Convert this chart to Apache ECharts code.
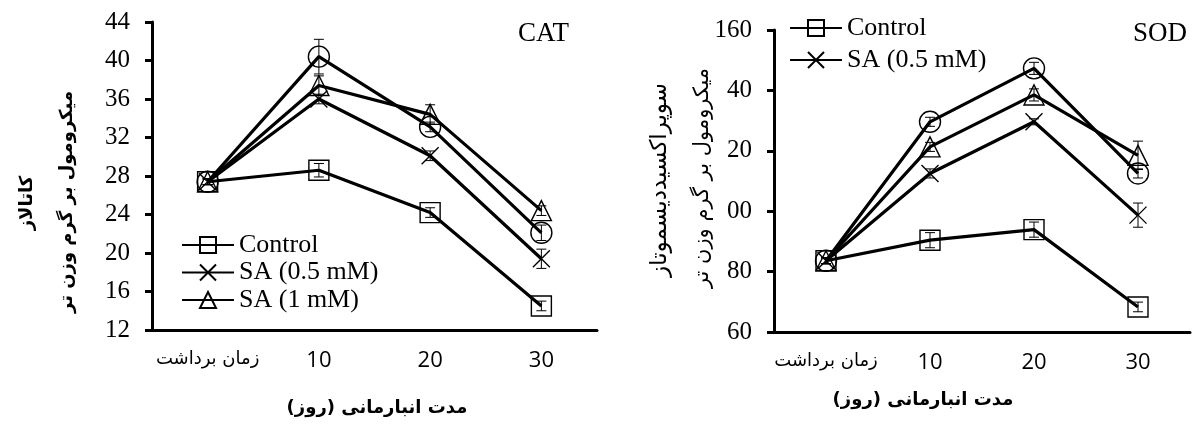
<!DOCTYPE html>
<html><head><meta charset="utf-8">
<script src="https://cdn.jsdelivr.net/npm/echarts@6/dist/echarts.min.js"></script>
<style>html,body{margin:0;padding:0;background:#fff}#c{width:1195px;height:430px}</style>
</head><body><div id="c"></div>
<script>
// ---- data ----
const categories = ['زمان برداشت', '10', '20', '30'];
const seriesNames = ['Control', 'SA (0.5 mM)', 'SA (1 mM)', 'SA (2 mM)'];

const catControl = [27.4, 28.6, 24.2, 14.5];
const catSA05    = [27.4, 36.0, 30.1, 19.4];
const catSA1     = [27.4, 37.4, 34.4, 24.4];
const catSA2     = [27.4, 40.4, 33.1, 22.1];
const catErrControl = [0.3, 0.7, 0.5, 0.5];
const catErrSA05    = [0.3, 0.5, 0.5, 1.0];
const catErrSA1     = [0.3, 1.0, 1.0, 0.5];
const catErrSA2     = [0.3, 1.8, 0.5, 0.8];

const sodControl = [83.6, 90.4, 93.9, 68.3];
const sodSA05    = [83.6, 112.5, 129.6, 98.7];
const sodSA1     = [83.6, 121.3, 138.5, 118.5];
const sodSA2     = [83.6, 129.6, 147.3, 112.5];
const sodErrControl = [1.0, 2.5, 2.5, 1.6];
const sodErrSA05    = [1.0, 1.5, 1.0, 4.0];
const sodErrSA1     = [1.0, 1.5, 2.0, 4.7];
const sodErrSA2     = [1.0, 1.5, 2.0, 1.5];

const catTicks = [12, 16, 20, 24, 28, 32, 36, 40, 44];
const sodTickLabels = {60: '60', 80: '80', 100: '00', 120: '20', 140: '40', 160: '160'};

// ---- build ----
const serif = 'Liberation Serif';
const symbols = [
  'rect',
  'path://M0,0L10,10M10,0L0,10',
  'triangle',
  'circle'
];
const symSizes = [20, 17, 20, 21];

function lineSeries(name, idx, data, axis) {
  return {
    type: 'line', name: name, data: data,
    xAxisIndex: axis, yAxisIndex: axis,
    symbol: symbols[idx], symbolSize: symSizes[idx],
    showAllSymbol: true,
    lineStyle: {color: '#000', width: 3.2},
    itemStyle: {color: 'rgba(0,0,0,0)', borderColor: '#000', borderWidth: 1.4},
    z: 3, animation: false
  };
}
function errSeries(vals, errs, axis) {
  return {
    type: 'custom', xAxisIndex: axis, yAxisIndex: axis, silent: true, z: 2,
    animation: false,
    data: vals.map((v, i) => [i, v - errs[i], v + errs[i]]),
    renderItem: function (params, api) {
      const x = api.value(0);
      const top = api.coord([x, api.value(2)]);
      const bot = api.coord([x, api.value(1)]);
      const w = 5;
      const st = {stroke: '#000', lineWidth: 1};
      return {type: 'group', children: [
        {type: 'line', shape: {x1: top[0], y1: top[1], x2: bot[0], y2: bot[1]}, style: st},
        {type: 'line', shape: {x1: top[0] - w, y1: top[1], x2: top[0] + w, y2: top[1]}, style: st},
        {type: 'line', shape: {x1: bot[0] - w, y1: bot[1], x2: bot[0] + w, y2: bot[1]}, style: st}
      ]};
    }
  };
}

function xAxisDef(gi) {
  return {
    type: 'category', gridIndex: gi, data: categories, boundaryGap: true,
    axisLine: {lineStyle: {color: '#000', width: 3}},
    axisTick: {alignWithLabel: true, length: 5, lineStyle: {color: '#000', width: 3}},
    axisLabel: {
      interval: 0, margin: 20, color: '#000',
      fontFamily: 'Open Sans, DejaVu Sans', fontSize: 22,
      formatter: function (v, i) { return i === 0 ? '{a|' + v + '}' : v; },
      rich: {a: {fontFamily: 'DejaVu Sans', fontSize: 18, color: '#000'}}
    },
    splitLine: {show: false}
  };
}

const chart = echarts.init(document.getElementById('c'), null, {renderer: 'canvas'});
chart.setOption({
  animation: false,
  backgroundColor: '#fff',
  grid: [
    {left: 152, top: 22, width: 445, height: 308},
    {left: 774, top: 30, width: 416, height: 302}
  ],
  xAxis: [xAxisDef(0), xAxisDef(1)],
  yAxis: [
    {
      type: 'value', gridIndex: 0, min: catTicks[0], max: catTicks[catTicks.length - 1], interval: 4,
      axisLine: {show: true, lineStyle: {color: '#000', width: 3}},
      axisTick: {show: true, length: 7, lineStyle: {color: '#000', width: 3}},
      axisLabel: {margin: 22, color: '#000', fontFamily: serif, fontSize: 25},
      splitLine: {show: false}
    },
    {
      type: 'value', gridIndex: 1, min: 60, max: 160, interval: 20,
      axisLine: {show: true, lineStyle: {color: '#000', width: 3}},
      axisTick: {show: true, length: 7, lineStyle: {color: '#000', width: 3}},
      axisLabel: {margin: 22, color: '#000', fontFamily: serif, fontSize: 25,
        formatter: function (v) { return sodTickLabels[v] !== undefined ? sodTickLabels[v] : ''; }},
      splitLine: {show: false}
    }
  ],
  legend: [
    {
      data: seriesNames.slice(0, 3), orient: 'vertical', left: 181, top: 232,
      itemWidth: 52, itemHeight: 20, itemGap: 1.5, padding: 0,
      textStyle: {fontFamily: serif, fontSize: 26, color: '#000', lineHeight: 26},
      selectedMode: false
    },
    {
      data: seriesNames.slice(0, 2), orient: 'vertical', left: 789, top: 15,
      itemWidth: 52, itemHeight: 20, itemGap: 6, padding: 0,
      textStyle: {fontFamily: serif, fontSize: 26, color: '#000', lineHeight: 26},
      selectedMode: false
    }
  ],
  series: [
    errSeries(catControl, catErrControl, 0),
    errSeries(catSA05, catErrSA05, 0),
    errSeries(catSA1, catErrSA1, 0),
    errSeries(catSA2, catErrSA2, 0),
    lineSeries(seriesNames[0], 0, catControl, 0),
    lineSeries(seriesNames[1], 1, catSA05, 0),
    lineSeries(seriesNames[2], 2, catSA1, 0),
    lineSeries(seriesNames[3], 3, catSA2, 0),
    errSeries(sodControl, sodErrControl, 1),
    errSeries(sodSA05, sodErrSA05, 1),
    errSeries(sodSA1, sodErrSA1, 1),
    errSeries(sodSA2, sodErrSA2, 1),
    lineSeries(seriesNames[0], 0, sodControl, 1),
    lineSeries(seriesNames[1], 1, sodSA05, 1),
    lineSeries(seriesNames[2], 2, sodSA1, 1),
    lineSeries(seriesNames[3], 3, sodSA2, 1)
  ],
  graphic: [
    {type: 'text', left: 518, top: 20, style: {text: 'CAT', font: '27px "Liberation Serif"', fill: '#000'}},
    {type: 'text', left: 1133, top: 20, style: {text: 'SOD', font: '27px "Liberation Serif"', fill: '#000'}},
    {type: 'text', x: 27, y: 203, rotation: Math.PI / 2,
      style: {text: 'کاتالاز', font: 'bold 18px "DejaVu Sans"', fill: '#000', align: 'center', verticalAlign: 'middle'}},
    {type: 'text', x: 67, y: 202, rotation: Math.PI / 2,
      style: {text: 'میکرومول بر گرم وزن تر', font: 'bold 18px "DejaVu Sans"', fill: '#000', align: 'center', verticalAlign: 'middle'}},
    {type: 'text', x: 660, y: 180, rotation: Math.PI / 2,
      style: {text: 'سوپراکسیددیسموتاز', font: '23px "DejaVu Sans"', fill: '#000', align: 'center', verticalAlign: 'middle'}},
    {type: 'text', x: 703, y: 178, rotation: Math.PI / 2,
      style: {text: 'میکرومول بر گرم وزن تر', font: '21px "DejaVu Sans"', fill: '#000', align: 'center', verticalAlign: 'middle'}},
    {type: 'text', x: 377, y: 408,
      style: {text: 'مدت انبارمانی (روز)', font: 'bold 18px "DejaVu Sans"', fill: '#000', align: 'center', verticalAlign: 'middle'}},
    {type: 'text', x: 923, y: 400,
      style: {text: 'مدت انبارمانی (روز)', font: 'bold 18px "DejaVu Sans"', fill: '#000', align: 'center', verticalAlign: 'middle'}}
  ]
});
</script></body></html>
